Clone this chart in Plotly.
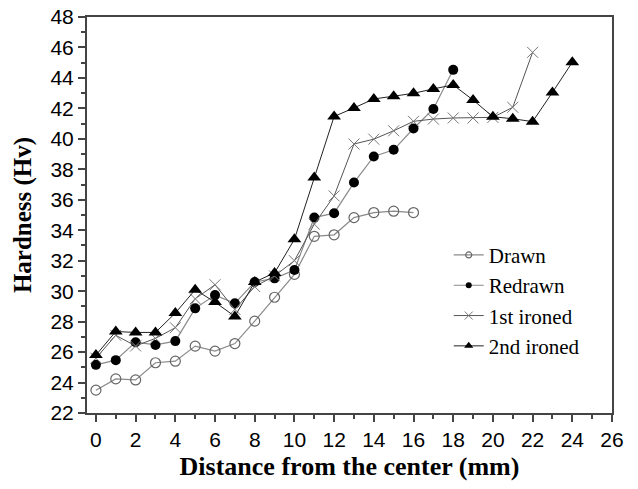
import plotly.graph_objects as go

x_drawn = list(range(0, 17))
drawn = [23.5, 24.24, 24.17, 25.3, 25.4, 26.39, 26.06, 26.56, 28.03, 29.6, 31.1,
         33.6, 33.7, 34.83, 35.16, 35.25, 35.16]

x_redrawn = list(range(0, 19))
redrawn = [25.16, 25.47, 26.65, 26.47, 26.72, 28.87, 29.74, 29.2, 30.6, 30.84, 31.39,
           34.83, 35.12, 37.13, 38.84, 39.28, 40.68, 41.96, 44.53]

x_iron1 = list(range(0, 23))
iron1 = [25.6, 27.1, 26.4, 26.9, 27.6, 29.5, 30.42, 28.8, 30.3, 31.0, 32.0,
         34.4, 36.25, 39.66, 39.98, 40.53, 41.15, 41.3, 41.37, 41.37, 41.41, 42.07, 45.68]

x_iron2 = list(range(0, 25))
iron2 = [25.8, 27.35, 27.29, 27.29, 28.56, 30.09, 29.28, 28.34, 30.6, 31.2, 33.4,
         37.46, 41.47, 42.03, 42.62, 42.8, 42.99, 43.28, 43.54, 42.55, 41.45, 41.32,
         41.13, 43.05, 45.03]

series_names = ["Drawn", "Redrawn", "1st ironed", "2nd ironed"]

x_ticks = list(range(0, 27, 2))
y_ticks = list(range(22, 49, 2))

styles = [
    dict(line=dict(color="#8a8a8a", width=1.2),
         marker=dict(symbol="circle-open", color="#666666", line=dict(width=1.2))),
    dict(line=dict(color="#8a8a8a", width=1.2),
         marker=dict(symbol="circle", color="black")),
    dict(line=dict(color="#555555", width=1),
         marker=dict(symbol="x-thin-open", color="#777777", line=dict(width=1, color="#777777"))),
    dict(line=dict(color="#222222", width=1),
         marker=dict(symbol="triangle-up", color="black")),
]
main_sizes = [10, 10, 11, 12]
legend_sizes = [6, 6, 8, 8]
data = [(x_drawn, drawn), (x_redrawn, redrawn), (x_iron1, iron1), (x_iron2, iron2)]

fig = go.Figure()
for (xs, ys), name, st, ms in zip(data, series_names, styles, main_sizes):
    mk = dict(st["marker"]); mk["size"] = ms
    fig.add_trace(go.Scatter(x=xs, y=ys, name=name, mode="lines+markers",
                             line=st["line"], marker=mk, showlegend=False))
# legend entries (no data) with small markers like the original
for name, st, ls in zip(series_names, styles, legend_sizes):
    mk = dict(st["marker"]); mk["size"] = ls
    fig.add_trace(go.Scatter(x=[None], y=[None], name=name, mode="lines+markers",
                             line=st["line"], marker=mk, showlegend=True))

axis_common = dict(
    showline=True, linecolor="#444444", linewidth=2, mirror=True,
    ticks="outside", ticklen=7, tickwidth=1.5, tickcolor="#444444",
    showgrid=False, zeroline=False, automargin=False, ticklabeloverflow="allow",
    tickfont=dict(family="Liberation Sans, Arial", size=21, color="black"),
)

fig.update_layout(
    width=638, height=489,
    margin=dict(l=87, r=26, t=17, b=76, autoexpand=False),
    plot_bgcolor="white", paper_bgcolor="white",
    xaxis=dict(range=[-0.45, 26], tickvals=x_ticks, ticktext=[str(v) for v in x_ticks],
               minor=dict(ticks="outside", ticklen=4, dtick=1, tick0=0, tickcolor="#444444"),
               title=dict(text="<b>Distance from the center (mm)</b>",
                          font=dict(family="Liberation Serif, Times New Roman", size=26, color="black"),
                          standoff=7),
               **axis_common),
    yaxis=dict(range=[22, 48], tickvals=y_ticks, ticktext=[str(v) for v in y_ticks],
               minor=dict(ticks="outside", ticklen=4, dtick=1, tick0=22, tickcolor="#444444"),
               title=dict(text="<b>Hardness (Hv)</b>",
                          font=dict(family="Liberation Serif, Times New Roman", size=25, color="black"),
                          standoff=12),
               **axis_common),
    legend=dict(x=0.689, y=0.45, xanchor="left", yanchor="top",
                font=dict(family="Liberation Serif, Times New Roman", size=21, color="black"),
                bgcolor="rgba(0,0,0,0)", tracegroupgap=0),
    showlegend=True,
)

# remove the browser's default 8px body margin so the figure fills the window
fig.write_html("out.html", config={"displayModeBar": False},
               post_script="document.body.style.margin='0px';")
